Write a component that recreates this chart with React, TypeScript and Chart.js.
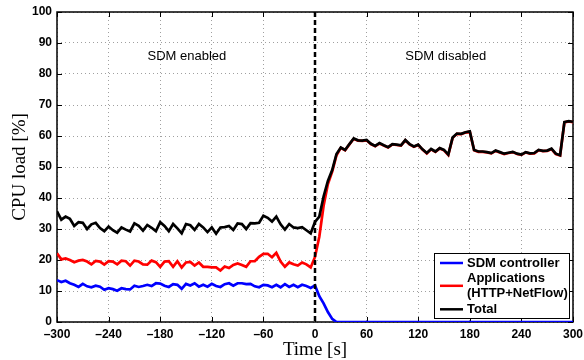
import React, { useEffect, useRef } from "react";
import { Chart, registerables } from "chart.js";

Chart.register(...registerables);

// time axis: -300 s .. 300 s, one sample every 5 s
const START_TIME = -300;
const STEP = 5;

const sdmController = [
  13.5, 12.9, 13.3, 12.5, 12.0, 11.3, 12.3, 11.5, 11.2, 11.7,
  11.4, 10.4, 10.9, 10.6, 10.1, 10.9, 10.6, 10.5, 11.7, 11.3,
  11.6, 12.0, 11.6, 12.5, 12.4, 11.7, 11.3, 12.2, 12.0, 10.7,
  12.3, 11.8, 12.5, 11.4, 12.0, 11.4, 12.3, 11.6, 11.3, 12.2,
  12.5, 11.7, 12.5, 12.5, 12.2, 12.3, 11.5, 11.2, 12.0, 11.8,
  11.2, 12.0, 11.2, 12.2, 11.3, 12.0, 11.2, 12.0, 11.6, 11.0,
  11.8, 8.3, 6.0, 3.2, 1.0, 0, 0, 0, 0, 0,
  0, 0, 0, 0, 0, 0, 0, 0, 0, 0,
  0, 0, 0, 0, 0, 0, 0, 0, 0, 0,
  0, 0, 0, 0, 0, 0, 0, 0, 0, 0,
  0, 0, 0, 0, 0, 0, 0, 0, 0, 0,
  0, 0, 0, 0, 0, 0, 0, 0, 0, 0,
  0,
];

const applications = [
  22.2, 20.2, 20.5, 20.0, 19.3, 19.8, 20.0, 19.5, 18.6, 19.7,
  19.5, 18.5, 19.6, 19.5, 18.6, 19.8, 19.6, 18.2, 19.8, 19.5,
  18.6, 18.5, 19.8, 19.3, 17.8, 19.5, 19.6, 17.8, 19.6, 17.6,
  19.2, 19.4, 18.2, 19.2, 17.8, 17.8, 17.6, 17.6, 16.6, 17.9,
  17.4, 18.4, 18.9, 18.4, 17.8, 19.6, 19.6, 21.0, 22.0, 22.0,
  20.9, 22.3, 19.5, 17.8, 19.2, 18.6, 18.2, 19.2, 18.6, 17.6,
  21.0, 27.5, 37.5, 44.5, 48.5, 53.8, 56.2, 55.4, 57.3, 59.1,
  58.5, 58.4, 58.6, 57.4, 56.7, 57.6, 56.9, 56.3, 57.3, 57.1,
  56.9, 58.6, 57.3, 56.5, 57.1, 55.6, 54.4, 55.7, 54.9, 56.0,
  55.4, 53.9, 59.4, 60.7, 60.6, 61.1, 61.4, 55.4, 54.9, 54.9,
  54.7, 54.4, 55.2, 54.7, 54.2, 54.5, 54.8, 54.2, 53.9, 54.7,
  54.3, 54.4, 55.4, 55.1, 55.2, 55.8, 54.2, 53.7, 64.4, 64.7,
  64.5,
];

const total = [
  35.7, 33.0, 34.0, 33.3, 31.0, 32.2, 32.0, 30.0, 31.5, 32.0,
  30.3, 29.3, 30.8, 29.6, 28.8, 30.5, 29.8, 29.2, 31.8, 31.0,
  29.5, 31.3, 30.4, 29.3, 32.2, 31.0, 29.3, 31.6, 30.2, 28.6,
  31.6, 31.2, 29.7, 31.6, 30.5, 29.0, 30.5, 28.5, 30.5, 30.6,
  31.0, 29.7, 31.8, 31.6, 30.0, 31.9, 31.8, 32.0, 34.3, 33.6,
  32.4, 34.0, 31.5, 29.8, 31.6, 30.5, 30.3, 30.6, 29.6, 28.6,
  32.3, 34.0, 40.5, 45.5, 49.0, 54.2, 56.3, 55.5, 57.4, 59.2,
  58.6, 58.5, 58.7, 57.5, 56.8, 57.7, 57.0, 56.4, 57.4, 57.2,
  57.0, 58.7, 57.4, 56.6, 57.2, 55.7, 54.5, 55.8, 55.0, 56.1,
  55.5, 54.0, 59.5, 60.8, 60.7, 61.2, 61.5, 55.5, 55.0, 55.0,
  54.8, 54.5, 55.3, 54.8, 54.3, 54.6, 54.9, 54.3, 54.0, 54.8,
  54.4, 54.5, 55.5, 55.2, 55.3, 55.9, 54.3, 53.8, 64.5, 64.8,
  64.6,
];

const xTicks = [-300, -240, -180, -120, -60, 0, 60, 120, 180, 240, 300];
const yTicks = [0, 10, 20, 30, 40, 50, 60, 70, 80, 90, 100];

const seriesNames = ["SDM controller", "Applications", "Total"];
const legendLines = [["SDM controller"], ["Applications", "(HTTP+NetFlow)"], ["Total"]];
const seriesColors = ["#0000ff", "#ff0000", "#000000"];

const annotations = [
  { text: "SDM enabled", x: -149, y: 85.6 },
  { text: "SDM disabled", x: 152, y: 85.6 },
];
const switchTime = 0;

const SANS = "'Liberation Sans', Arial, Helvetica, sans-serif";
const SERIF = "'Liberation Serif', 'Times New Roman', serif";

const toPoints = (vals: number[]) =>
  vals.map((v, i) => ({ x: START_TIME + STEP * i, y: v }));

const decorPlugin = {
  id: "decor",
  beforeDatasetsDraw(chart: any) {
    const { ctx, chartArea: a, scales } = chart;
    ctx.save();
    ctx.strokeStyle = "#000";
    ctx.lineWidth = 1;
    ctx.beginPath();
    xTicks.forEach((v) => {
      const x = Math.round(scales.x.getPixelForValue(v)) + 0.5;
      ctx.moveTo(x, a.bottom);
      ctx.lineTo(x, a.bottom - 5);
      ctx.moveTo(x, a.top);
      ctx.lineTo(x, a.top + 5);
    });
    yTicks.forEach((v) => {
      const y = Math.round(scales.y.getPixelForValue(v)) + 0.5;
      ctx.moveTo(a.left, y);
      ctx.lineTo(a.left + 5, y);
      ctx.moveTo(a.right, y);
      ctx.lineTo(a.right - 5, y);
    });
    ctx.stroke();
    ctx.lineWidth = 1.5;
    ctx.strokeRect(a.left, a.top, a.right - a.left, a.bottom - a.top);
    ctx.restore();
  },
  afterDatasetsDraw(chart: any) {
    const { ctx, chartArea: a, scales } = chart;
    ctx.save();
    // dashed switch line
    const sx = scales.x.getPixelForValue(switchTime);
    ctx.strokeStyle = "#000";
    ctx.lineWidth = 2.5;
    ctx.setLineDash([5, 3]);
    ctx.beginPath();
    ctx.moveTo(sx, a.top);
    ctx.lineTo(sx, a.bottom);
    ctx.stroke();
    ctx.setLineDash([]);

    // annotations
    ctx.fillStyle = "#000";
    ctx.font = `13px ${SANS}`;
    ctx.textAlign = "center";
    ctx.textBaseline = "middle";
    annotations.forEach((t) => {
      ctx.fillText(t.text, scales.x.getPixelForValue(t.x), scales.y.getPixelForValue(t.y));
    });

    // legend
    const w = 135;
    const h = 65;
    const bx = a.right - 4 - w;
    const by = a.bottom - 4 - h;
    ctx.fillStyle = "#fff";
    ctx.fillRect(bx, by, w, h);
    ctx.strokeStyle = "#000";
    ctx.lineWidth = 1;
    ctx.strokeRect(Math.round(bx) + 0.5, Math.round(by) + 0.5, w, h);
    ctx.font = `bold 13px ${SANS}`;
    ctx.textAlign = "left";
    ctx.textBaseline = "middle";
    const rowY = [[10], [25.3, 40.3], [56.3]];
    const lineY = [10, 32.8, 56.3];
    legendLines.forEach((lines, i) => {
      ctx.strokeStyle = seriesColors[i];
      ctx.lineWidth = 2.5;
      ctx.beginPath();
      ctx.moveTo(bx + 6, by + lineY[i]);
      ctx.lineTo(bx + 29, by + lineY[i]);
      ctx.stroke();
      ctx.fillStyle = "#000";
      lines.forEach((txt, j) => ctx.fillText(txt, bx + 33, by + rowY[i][j]));
    });
    ctx.restore();
  },
  afterDraw(chart: any) {
    const { ctx, chartArea: a } = chart;
    ctx.save();
    ctx.fillStyle = "#000";
    ctx.font = `19px ${SERIF}`;
    ctx.textAlign = "center";
    ctx.textBaseline = "middle";
    ctx.fillText("Time [s]", (a.left + a.right) / 2, 350);
    ctx.translate(20, (a.top + a.bottom) / 2);
    ctx.rotate(-Math.PI / 2);
    ctx.fillText("CPU load [%]", 0, 0);
    ctx.restore();
  },
};

export default function App() {
  const ref = useRef<HTMLCanvasElement | null>(null);
  useEffect(() => {
    if (!ref.current) return;
    const chart = new Chart(ref.current, {
      type: "line",
      data: {
        datasets: [
          { label: seriesNames[0], data: toPoints(sdmController), borderColor: seriesColors[0], order: 1 },
          { label: seriesNames[1], data: toPoints(applications), borderColor: seriesColors[1], order: 2 },
          { label: seriesNames[2], data: toPoints(total), borderColor: seriesColors[2], order: 0 },
        ].map((d) => ({
          ...d,
          borderWidth: 2.7,
          pointRadius: 0,
          tension: 0,
          fill: false,
        })),
      },
      options: {
        animation: false,
        responsive: false,
        devicePixelRatio: 1,
        layout: { padding: { top: 12, right: 11, bottom: 0, left: 0 } },
        plugins: { legend: { display: false }, tooltip: { enabled: false } },
        scales: {
          x: {
            type: "linear",
            min: -300,
            max: 300,
            afterBuildTicks: (s: any) => {
              s.ticks = xTicks.map((v) => ({ value: v }));
            },
            afterFit: (s: any) => {
              s.height = 38;
              s.paddingLeft = 0;
              s.paddingRight = 0;
            },
            grid: { color: "#a0a0a0", lineWidth: 1, drawTicks: false },
            border: { display: false, dash: [1, 3] },
            ticks: {
              padding: 5,
              color: "#000",
              maxRotation: 0,
              font: { family: SANS, size: 12, weight: "bold" },
              callback: (v: any) => (v < 0 ? "\u2013" + Math.abs(v) : String(v)),
            },
          },
          y: {
            type: "linear",
            min: 0,
            max: 100,
            afterBuildTicks: (s: any) => {
              s.ticks = yTicks.map((v) => ({ value: v }));
            },
            afterFit: (s: any) => {
              s.width = 57;
              s.paddingTop = 0;
              s.paddingBottom = 0;
            },
            grid: { color: "#a0a0a0", lineWidth: 1, drawTicks: false },
            border: { display: false, dash: [1, 3] },
            ticks: {
              padding: 5,
              color: "#000",
              font: { family: SANS, size: 12, weight: "bold" },
            },
          },
        },
      },
      plugins: [decorPlugin],
    } as any);
    return () => chart.destroy();
  }, []);
  return (
    <div style={{ position: "fixed", left: 0, top: 0, width: 584, height: 360, background: "#fff" }}>
      <canvas ref={ref} width={584} height={360} />
    </div>
  );
}
